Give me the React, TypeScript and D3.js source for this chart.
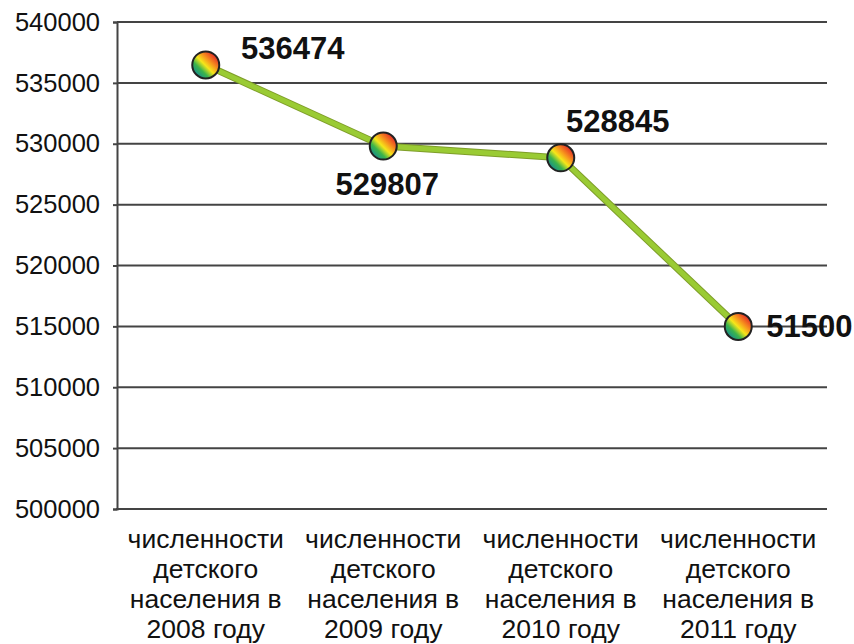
import React, { useEffect, useRef } from 'react';
import * as d3 from 'd3';

// categories (multi-line labels), values, data label texts, y ticks
const categories = [
  'численности детского населения в 2008 году',
  'численности детского населения в 2009 году',
  'численности детского населения в 2010 году',
  'численности детского населения в 2011 году',
];
const categoryLines = [
  ['численности', 'детского', 'населения в', '2008 году'],
  ['численности', 'детского', 'населения в', '2009 году'],
  ['численности', 'детского', 'населения в', '2010 году'],
  ['численности', 'детского', 'населения в', '2011 году'],
];
const values = [536474, 529807, 528845, 515000];
const labelTexts = ['536474', '529807', '528845', '51500'];
const yTicks = [500000, 505000, 510000, 515000, 520000, 525000, 530000, 535000, 540000];

const App = () => {
  const ref = useRef<SVGSVGElement>(null);

  useEffect(() => {
    const svg = d3.select(ref.current);
    svg.selectAll('*').remove();

    const width = 854;
    const height = 644;
    const marginLeft = 117;
    const marginRight = 27;
    const marginTop = 22;
    const plotBottom = 509;
    const font = '"Liberation Sans", Arial, sans-serif';

    const x = d3.scaleBand().domain(categories).range([marginLeft, width - marginRight]);
    const y = d3.scaleLinear().domain([500000, 540000]).range([plotBottom, marginTop]);

    // gradient for markers
    const defs = svg.append('defs');
    const grad = defs.append('linearGradient')
      .attr('id', 'markerGrad')
      .attr('x1', '15%').attr('y1', '85%')
      .attr('x2', '85%').attr('y2', '15%');
    [['0%', '#17908c'], ['25%', '#3cb44a'], ['48%', '#f5e61a'], ['70%', '#f7941d'], ['100%', '#e52d27']]
      .forEach(([o, c]) => grad.append('stop').attr('offset', o).attr('stop-color', c));

    // gridlines
    svg.append('g')
      .selectAll('line')
      .data(yTicks.slice(1))
      .join('line')
      .attr('x1', marginLeft)
      .attr('x2', width - marginRight)
      .attr('y1', d => y(d))
      .attr('y2', d => y(d))
      .attr('stroke', '#444')
      .attr('stroke-width', 2);

    // y axis
    const yAxis = svg.append('g')
      .attr('transform', `translate(${marginLeft},0)`)
      .call(d3.axisLeft(y).tickValues(yTicks).tickSize(4).tickPadding(13).tickFormat(d3.format('d')));
    yAxis.select('.domain').attr('stroke', '#444').attr('stroke-width', 2);
    yAxis.selectAll('.tick line').attr('stroke', '#444').attr('stroke-width', 2);
    yAxis.selectAll('.tick text')
      .attr('font-family', font)
      .attr('font-size', 25.5)
      .attr('fill', '#111');

    // x axis line
    svg.append('line')
      .attr('x1', marginLeft - 1)
      .attr('x2', width - marginRight)
      .attr('y1', plotBottom)
      .attr('y2', plotBottom)
      .attr('stroke', '#444')
      .attr('stroke-width', 2);

    // category labels
    categories.forEach((c, i) => {
      const t = svg.append('text')
        .attr('x', x(c)! + x.bandwidth() / 2)
        .attr('y', plotBottom + 39)
        .attr('text-anchor', 'middle')
        .attr('font-family', font)
        .attr('font-size', 26.5)
        .attr('fill', '#111');
      categoryLines[i].forEach((ln, j) => {
        t.append('tspan')
          .attr('x', x(c)! + x.bandwidth() / 2)
          .attr('dy', j === 0 ? 0 : 30)
          .text(ln);
      });
    });

    const px = (i: number) => x(categories[i])! + x.bandwidth() / 2;

    // line
    const line = d3.line<number>().x((_, i) => px(i)).y(d => y(d));
    svg.append('path')
      .datum(values)
      .attr('fill', 'none')
      .attr('stroke', '#7f9e2a')
      .attr('stroke-width', 7)
      .attr('d', line);
    svg.append('path')
      .datum(values)
      .attr('fill', 'none')
      .attr('stroke', '#9acb34')
      .attr('stroke-width', 5)
      .attr('d', line);

    // markers
    svg.append('g')
      .selectAll('circle')
      .data(values)
      .join('circle')
      .attr('cx', (_, i) => px(i))
      .attr('cy', d => y(d))
      .attr('r', 13.5)
      .attr('fill', 'url(#markerGrad)')
      .attr('stroke', '#222')
      .attr('stroke-width', 2);

    // data labels
    const offsets = [
      { dx: 87, dy: -6, anchor: 'middle' },
      { dx: 4, dy: 49, anchor: 'middle' },
      { dx: 57, dy: -26, anchor: 'middle' },
      { dx: 28, dy: 11, anchor: 'start' },
    ];
    values.forEach((v, i) => {
      svg.append('text')
        .attr('x', px(i) + offsets[i].dx)
        .attr('y', y(v) + offsets[i].dy)
        .attr('text-anchor', offsets[i].anchor)
        .attr('font-family', font)
        .attr('font-weight', 'bold')
        .attr('font-size', 31)
        .attr('fill', '#111')
        .text(labelTexts[i]);
    });
  }, []);

  return (
    <svg ref={ref} width={854} height={644} style={{ display: 'block', position: 'absolute', left: 0, top: 0, background: '#fff' }} />
  );
};

export default App;
